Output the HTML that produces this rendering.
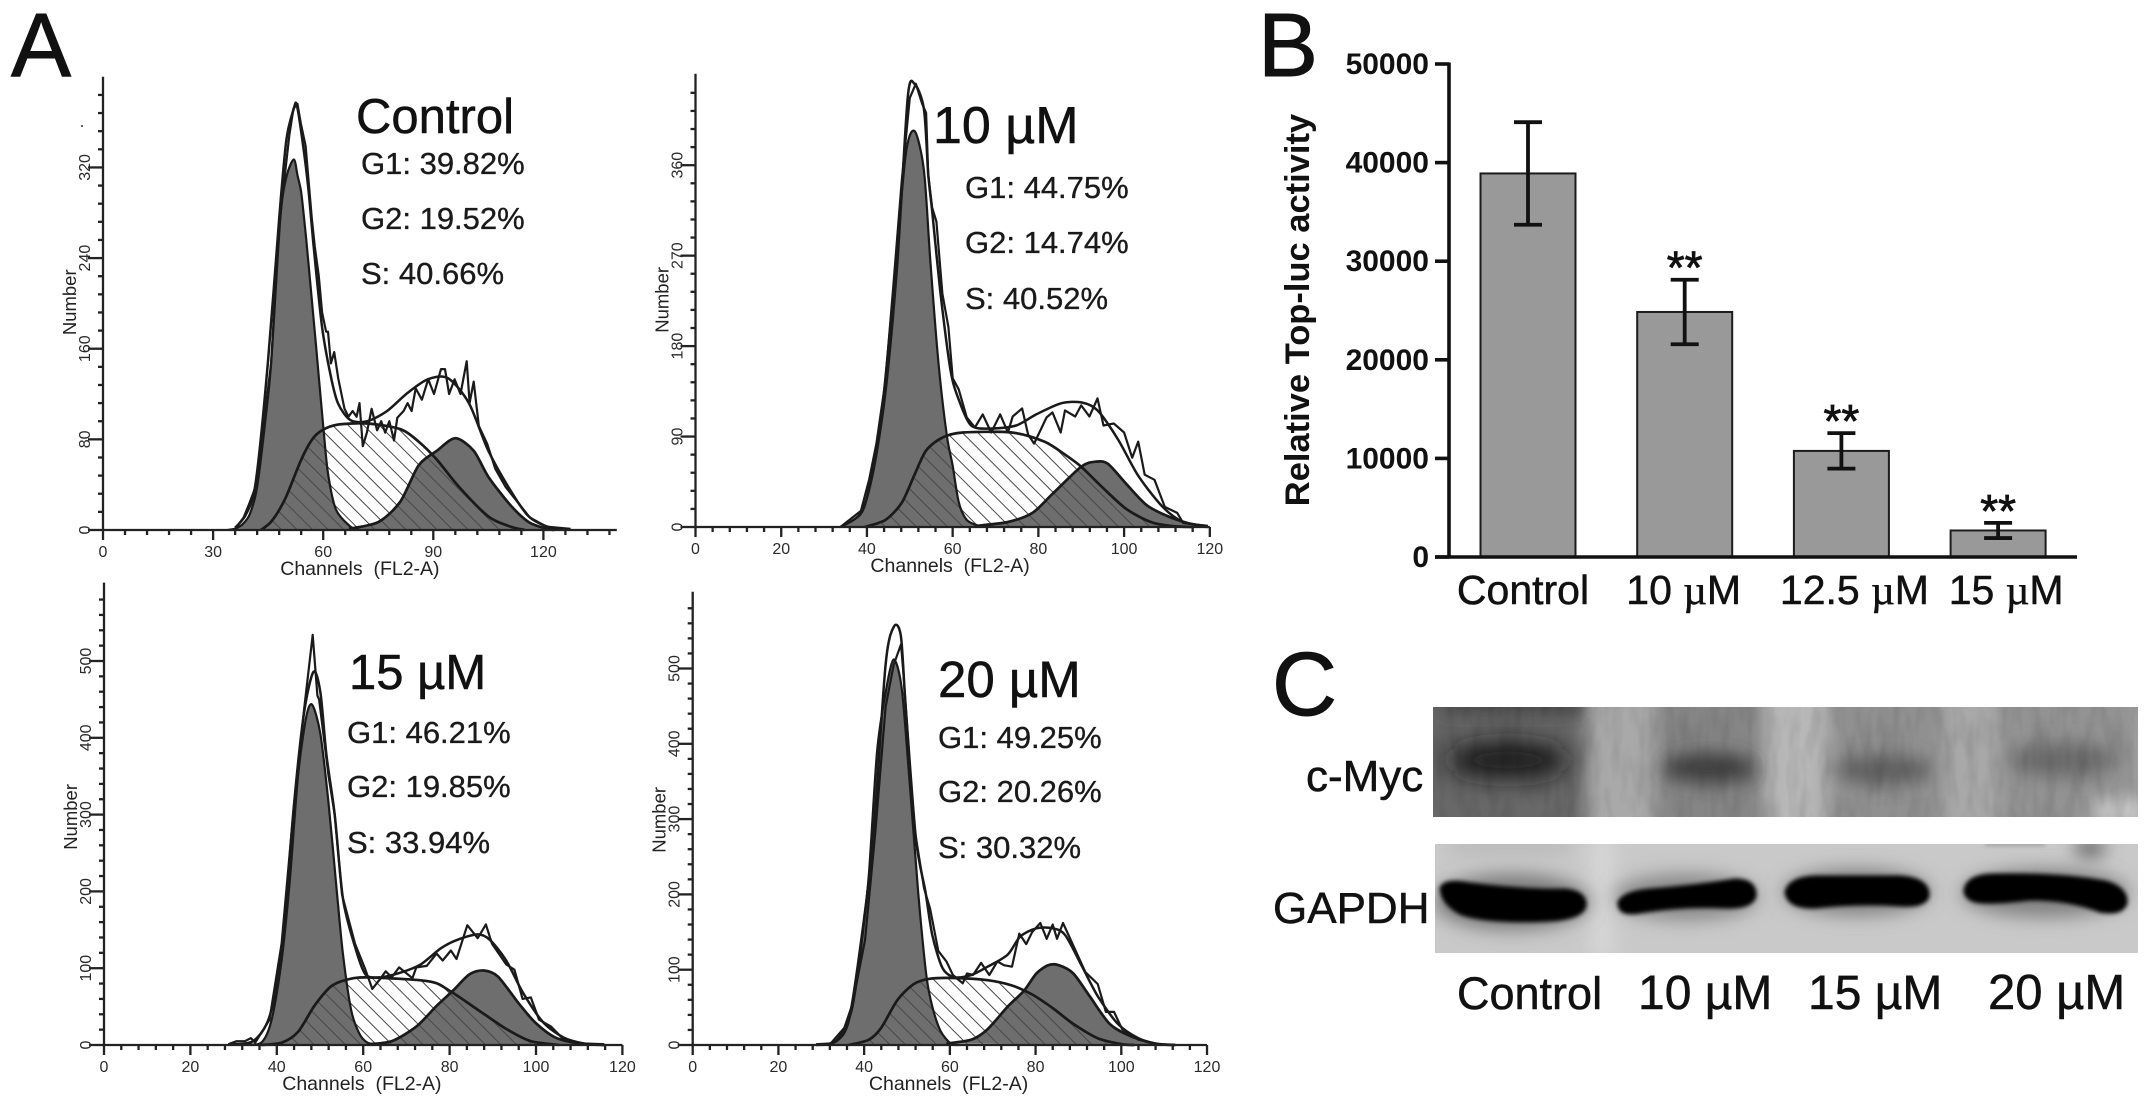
<!DOCTYPE html>
<html lang="en">
<head>
<meta charset="utf-8">
<title>Cell cycle histograms, Top-luc activity and c-Myc blot</title>
<style>
html,body{margin:0;padding:0;background:#fff;width:2150px;height:1106px;overflow:hidden}
svg{display:block}
text{font-family:"Liberation Sans",sans-serif;fill:#111}
.pct{font-size:31px;fill:#1a1a1a;stroke:#1a1a1a;stroke-width:.35px}
.ttl{font-size:49px;stroke:#111;stroke-width:.5px}
.panel-letter{font-size:90px;stroke:#111;stroke-width:1px}
.blot-label{font-size:44px;stroke:#111;stroke-width:.5px}
.blot-lane{font-size:45px;stroke:#111;stroke-width:.5px}
</style>
</head>
<body>
<svg id="figure" xmlns="http://www.w3.org/2000/svg" width="2150" height="1106" viewBox="0 0 2150 1106">
<defs>
  <pattern id="hatch" patternUnits="userSpaceOnUse" width="11" height="11" patternTransform="rotate(-45)">
    <line x1="0" y1="0" x2="0" y2="11" stroke="#484848" stroke-width="2"/>
  </pattern>
  <filter id="blurBig" x="-100%" y="-400%" width="300%" height="900%"><feGaussianBlur stdDeviation="13"/></filter>
  <filter id="blurMid" x="-100%" y="-400%" width="300%" height="900%"><feGaussianBlur stdDeviation="9"/></filter>
  <filter id="blurSmall" x="-20%" y="-60%" width="140%" height="220%"><feGaussianBlur stdDeviation="2.2"/></filter>
  <filter id="streakNoise" x="0" y="0" width="100%" height="100%">
    <feTurbulence type="fractalNoise" baseFrequency="0.09 0.025" numOctaves="2" seed="7"/>
    <feColorMatrix type="matrix" values="0 0 0 0 0  0 0 0 0 0  0 0 0 0 0  2 0 0 0 -.8"/>
  </filter>
  <clipPath id="clipMyc"><rect x="1433" y="707" width="705" height="110"/></clipPath>
  <clipPath id="clipGapdh"><rect x="1435" y="844" width="703" height="109"/></clipPath>
</defs>

<text class="panel-letter" x="11" y="76">A</text>
<text class="panel-letter" x="1258" y="76">B</text>
<text class="panel-letter" x="1272" y="715">C</text>

<g id="histograms"></g>

<g>
  <text class="ttl" x="356" y="133">Control</text>
  <text class="pct" x="361" y="174">G1: 39.82%</text>
  <text class="pct" x="361" y="229">G2: 19.52%</text>
  <text class="pct" x="361" y="284">S: 40.66%</text>
  <rect x="81" y="125" width="2" height="2" fill="#666"/>
</g>
<g>
  <text class="ttl" x="933" y="143" style="font-size:52px">10 µM</text>
  <text class="pct" x="965" y="198">G1: 44.75%</text>
  <text class="pct" x="965" y="253">G2: 14.74%</text>
  <text class="pct" x="965" y="309">S: 40.52%</text>
</g>
<g>
  <text class="ttl" x="349" y="689">15 µM</text>
  <text class="pct" x="347" y="743">G1: 46.21%</text>
  <text class="pct" x="347" y="797">G2: 19.85%</text>
  <text class="pct" x="347" y="853">S: 33.94%</text>
</g>
<g>
  <text class="ttl" x="938" y="697" style="font-size:51px">20 µM</text>
  <text class="pct" x="938" y="748">G1: 49.25%</text>
  <text class="pct" x="938" y="802">G2: 20.26%</text>
  <text class="pct" x="938" y="858">S: 30.32%</text>
</g>

<g id="barChart"></g>

<g>
  <g clip-path="url(#clipMyc)">
    <rect x="1433" y="707" width="705" height="110" fill="#a9a9a9"/>
    <rect x="1410" y="680" width="176" height="170" fill="#686868" filter="url(#blurMid)"/>
    <rect x="1655" y="680" width="110" height="170" fill="#858585" filter="url(#blurMid)"/>
    <rect x="1830" y="680" width="114" height="170" fill="#909090" filter="url(#blurMid)"/>
    <rect x="1998" y="680" width="140" height="170" fill="#939393" filter="url(#blurMid)"/>
    <rect x="1770" y="680" width="50" height="170" fill="#b8b8b8" filter="url(#blurMid)"/>
    <rect x="1440" y="698" width="140" height="14" fill="#3e3e3e" filter="url(#blurMid)"/>
    <rect x="2095" y="800" width="60" height="24" fill="#cdcdcd" filter="url(#blurMid)"/>
    <ellipse cx="1508" cy="760" rx="62" ry="18" fill="#121212" filter="url(#blurBig)"/>
    <ellipse cx="1709" cy="768" rx="46" ry="15" fill="#3e3e3e" filter="url(#blurMid)"/>
    <ellipse cx="1883" cy="770" rx="48" ry="15" fill="#5e5e5e" filter="url(#blurMid)"/>
    <ellipse cx="2063" cy="760" rx="54" ry="18" fill="#6c6c6c" filter="url(#blurMid)"/>
    <rect x="1433" y="707" width="705" height="110" filter="url(#streakNoise)" opacity=".1"/>
  </g>
  <g clip-path="url(#clipGapdh)">
    <rect x="1435" y="844" width="703" height="109" fill="#c9c9c9"/>
    <rect x="1590" y="836" width="24" height="125" fill="#d6d6d6" filter="url(#blurMid)"/>
    <rect x="1450" y="840" width="120" height="12" fill="#b4b4b4" filter="url(#blurMid)"/>
    <rect x="1985" y="838" width="60" height="8" fill="#a4a4a4" filter="url(#blurSmall)"/>
    <ellipse cx="2090" cy="848" rx="16" ry="9" fill="#5f5f5f" filter="url(#blurMid)"/>
    <ellipse cx="1512" cy="902" rx="78" ry="28" fill="#7a7a7a" filter="url(#blurMid)"/>
    <ellipse cx="1686" cy="897" rx="72" ry="23" fill="#888888" filter="url(#blurMid)"/>
    <ellipse cx="1857" cy="892" rx="74" ry="23" fill="#808080" filter="url(#blurMid)"/>
    <ellipse cx="2045" cy="893" rx="84" ry="24" fill="#808080" filter="url(#blurMid)"/>
    <path d="M1441,888 Q1445,879 1470,884 Q1525,891 1565,890 Q1586,892 1585,906 Q1582,918 1550,920 Q1490,923 1462,914 Q1442,904 1441,888Z" fill="#020202" stroke="#020202" stroke-width="3" filter="url(#blurSmall)"/>
    <path d="M1619,902 Q1625,892 1650,890 Q1700,886 1735,880 Q1756,880 1755,896 Q1752,908 1725,907 Q1680,905 1640,912 Q1618,916 1619,902Z" fill="#020202" stroke="#020202" stroke-width="3" filter="url(#blurSmall)"/>
    <path d="M1786,892 Q1790,878 1815,877 L1900,877 Q1929,879 1928,896 Q1925,907 1900,905 Q1860,902 1815,907 Q1788,908 1786,892Z" fill="#020202" stroke="#020202" stroke-width="3" filter="url(#blurSmall)"/>
    <path d="M1965,890 Q1968,875 1995,875 Q2060,874 2105,882 Q2127,888 2126,903 Q2122,915 2100,911 Q2070,899 2030,899 Q1990,904 1975,901 Q1965,898 1965,890Z" fill="#020202" stroke="#020202" stroke-width="3" filter="url(#blurSmall)"/>
  </g>
  <text class="blot-label" x="1306" y="791">c-Myc</text>
  <text class="blot-label" x="1273" y="923">GAPDH</text>
  <text class="blot-lane" x="1457" y="1009">Control</text>
  <text class="blot-lane" x="1638" y="1009" style="font-size:48px">10 µM</text>
  <text class="blot-lane" x="1808" y="1009" style="font-size:48px">15 µM</text>
  <text class="blot-lane" x="1988" y="1009" style="font-size:49px">20 µM</text>
</g>
</svg>

<script>
// ---- Histogram data: [channel, number] ----
const controlXTicks = [0, 30, 60, 90, 120];
const controlYTicks = [0, 80, 160, 240, 320];
const controlG1 = [[36,1],[38,5],[40,14],[42,38],[44,90],[45.8,147],[48.3,275],[50,312],[52,327],[53,313],[54,298],[55.2,262],[56,235],[58,164],[60,92],[61.3,50],[63.5,18],[67.4,3],[70,0]];
const controlS = [[43,0],[46,8],[49.7,28],[54,62],[57,80],[59.7,88],[64,93],[72,94],[81,89],[86,78],[91,62],[97,38],[105,12],[111,3],[115,0]];
const controlG2 = [[67,1],[75,7],[81,25],[86,57],[91,70],[96,81],[101,70],[105,47],[111,22],[116,7],[121,1],[123,0]];
const controlFit = [[36,2],[39,14],[41.6,42],[45,150],[48,275],[50,345],[52,372],[52.8,375],[54.5,340],[56,300],[57.4,250],[59.7,179],[62,137],[64,112],[67.4,97],[72,96],[77.4,105],[83,121],[88.5,133],[94,134],[99.7,112],[105,70],[111,35],[116,12],[121,3],[126,0]];
const controlRaw = [[34,0],[36,1],[38.3,11],[39.7,22],[41.9,41],[44,99],[45.8,147],[48,269],[50.8,349],[51.9,372],[53,376],[53.9,359],[55.2,339],[56.9,275],[57.7,250],[58.8,224],[59.7,192],[60.8,175],[61.3,175],[62.1,147],[63,157],[64.1,134],[65.8,107],[66.9,100],[68,105],[69.1,100],[69.9,112],[70.8,74],[71.9,86],[73.2,107],[74.7,88],[75.8,96],[76.9,86],[78,96],[79.3,79],[80.2,99],[81.9,105],[83,112],[84.1,105],[85.2,125],[86.9,115],[88.6,133],[90.2,120],[92.1,142],[93.2,142],[94.3,120],[95.8,133],[97.4,120],[99.1,149],[99.9,112],[101,131],[102.4,92],[104.7,76],[106.9,54],[109.7,38],[112.4,27],[116.3,11],[120.8,3],[127.4,1]];

const tenXTicks = [0, 20, 40, 60, 80, 100, 120];
const tenYTicks = [0, 90, 180, 270, 360];
const tenG1 = [[33.8,0],[38.6,13],[40.5,40],[43.3,109],[46.2,235],[49,369],[51.1,394],[53.3,355],[54.8,264],[56.7,163],[58.6,92],[60,61],[61.4,25],[63.3,7],[66.2,1],[68,0]];
const tenS = [[39.5,0],[44.3,7],[48.1,24],[51,51],[53.8,76],[57.6,89],[62.4,94],[73.8,94],[81.4,85],[86.2,72],[90,60],[94.8,40],[100.5,18],[106.2,5],[111,1],[115.7,0]];
const tenG2 = [[65.2,1],[72.9,5],[78.6,14],[83.3,33],[90,60],[93.3,65],[96.2,63],[100.5,43],[105.2,22],[110,11],[114.8,4],[119.5,0]];
const tenFit = [[33.8,0],[38.6,14],[41.4,54],[44.3,134],[47.1,264],[49.5,427],[51.1,441],[53.3,416],[54.3,351],[55.2,315],[57.1,235],[59.5,156],[61.4,127],[64.3,101],[69,98],[74.8,101],[79.5,112],[85.2,123],[90,124],[93.8,116],[98.6,87],[103.3,51],[109,20],[113.8,5],[119.5,1]];
const tenRaw = [[33.8,0],[38.6,16],[40.5,47],[42.2,83],[44.3,145],[46.2,242],[48.1,344],[50,427],[51.4,441],[52.9,421],[53.8,412],[54.3,351],[55.2,318],[56.2,304],[57.6,232],[59,199],[60,148],[61.4,137],[63.3,109],[65.2,99],[67,112],[69,94],[71.1,112],[72.9,94],[74,110],[76.2,118],[77.6,92],[79,83],[81.9,109],[83.3,114],[85.2,94],[86.2,116],[88.6,110],[90,121],[91.9,110],[93.8,128],[95.2,101],[97.6,103],[100,94],[101.9,69],[103.3,85],[104.8,52],[107.1,47],[109.5,20],[112.4,14],[113.8,4],[119.5,1]];

const fifteenXTicks = [0, 20, 40, 60, 80, 100, 120];
const fifteenYTicks = [0, 100, 200, 300, 400, 500];
const fifteenG1 = [[32.6,1],[36.4,3],[38.8,33],[41.1,110],[43,214],[44.9,350],[46.8,427],[48.2,443],[50.1,405],[52,314],[53.9,200],[55.3,119],[57.2,46],[59.1,15],[61,3],[63.8,0]];
const fifteenS = [[36.4,0],[41.1,3],[44.9,17],[48.7,51],[52.5,76],[56.2,85],[61,88],[75.1,83],[79.9,71],[86.5,46],[93.1,21],[98.8,5],[105.4,0]];
const fifteenG2 = [[61,1],[66.6,5],[72.3,24],[77,51],[80.8,71],[84.6,92],[87.9,97],[91.2,89],[95.9,55],[99.7,30],[104.4,10],[110,2],[115.8,0]];
const fifteenFit = [[28.8,1],[34.5,5],[38.3,37],[41.1,119],[44,314],[46.3,432],[48.5,486],[50.1,459],[51.5,377],[53.4,300],[55.3,191],[58.1,128],[60.5,92],[63.8,88],[68.5,94],[73.3,105],[78,126],[81.8,137],[86.5,144],[89.3,137],[93.1,110],[96.9,69],[101.6,30],[106.3,10],[111.1,2],[115.8,0]];
const fifteenRaw = [[28.8,1],[30.7,5],[32.6,5],[34,9],[35,3],[38.3,33],[41.1,132],[44,314],[46.3,436],[48.3,534],[49.4,455],[49.8,450],[52,350],[53.4,300],[55.1,196],[58.1,132],[60.5,98],[62.1,73],[63.8,85],[65.2,96],[66.6,88],[68.3,101],[71.4,87],[72.3,101],[74.7,103],[77,119],[78.4,110],[80.3,123],[81.6,112],[84.1,156],[86.5,139],[88.4,157],[89.8,132],[93.1,105],[95,98],[96.9,60],[98.8,62],[100.7,33],[103.5,24],[106.8,5],[111.1,2],[115.8,1]];

const twentyXTicks = [0, 20, 40, 60, 80, 100, 120];
const twentyYTicks = [0, 100, 200, 300, 400, 500];
const twentyG1 = [[28.8,0],[32.6,2],[35.4,21],[37.3,51],[39.2,125],[41.1,227],[43,389],[45,468],[46.9,512],[48.8,472],[50.7,343],[52.6,204],[54.5,93],[55.9,51],[57.8,19],[60.2,2],[62.1,0]];
const twentyS = [[36.4,0],[41.1,7],[44,23],[47.8,60],[51.6,81],[55.4,88],[61.1,89],[68.8,86],[74.5,79],[79.2,67],[84,49],[88.8,28],[94.5,9],[100.2,1],[103,0]];
const twentyG2 = [[59.2,2],[65,7],[68.8,21],[73.5,51],[77.3,72],[80.2,95],[83,106],[85.4,106],[88.8,95],[92.6,65],[97.3,28],[102.1,12],[107.8,2],[112.6,0]];
const twentyFit = [[28.8,0],[33.5,5],[36.4,32],[39.2,134],[42.1,273],[45,505],[47,556],[48.6,542],[49.7,449],[52.1,273],[54.3,204],[55.9,146],[58.3,102],[61.1,90],[65,93],[68.8,104],[73.5,120],[76.4,144],[80.2,155],[84,155],[86.9,146],[90.7,106],[94.5,65],[99.2,28],[104,9],[108.8,1],[112.6,0]];
const twentyRaw = [[28.8,1],[32.2,2],[35.4,23],[37.3,55],[40.2,139],[42.6,282],[45,449],[46.9,505],[48.6,532],[49.2,491],[51.6,292],[54,208],[55.4,181],[57.3,125],[59.2,111],[60.7,93],[63,82],[64,95],[65.4,93],[67.3,109],[69.2,93],[71.1,111],[72.6,106],[74.5,104],[76.2,148],[77.8,134],[79.2,150],[81.1,162],[82.6,141],[84,160],[85,141],[86.4,162],[88.8,132],[91.6,97],[94.5,81],[96.4,44],[98.3,44],[100.2,21],[104,7],[108.8,1],[112.6,0]];

// ---- Bar chart data ----
const barCategories = ['Control', '10 µM', '12.5 µM', '15 µM'];
const barMeans = [38900, 24850, 10760, 2690];
const barErrors = [5200, 3270, 1800, 770];
const barStars = ['', '**', '**', '**'];
const barYTicks = [0, 10000, 20000, 30000, 40000, 50000];

const SVG_NS = 'http://www.w3.org/2000/svg';

function make(tag, attrs, parent, txt) {
  const el = document.createElementNS(SVG_NS, tag);
  for (const k in attrs) el.setAttribute(k, attrs[k]);
  if (txt !== undefined) el.textContent = txt;
  parent.appendChild(el);
  return el;
}

function smoothPath(pts) {
  let d = 'M' + pts[0][0].toFixed(1) + ',' + pts[0][1].toFixed(1);
  for (let i = 0; i < pts.length - 1; i++) {
    const p0 = pts[Math.max(0, i - 1)], p1 = pts[i], p2 = pts[i + 1], p3 = pts[Math.min(pts.length - 1, i + 2)];
    const k = 0.14;
    d += ' C' + (p1[0] + (p2[0] - p0[0]) * k).toFixed(1) + ',' + (p1[1] + (p2[1] - p0[1]) * k).toFixed(1) + ' ' +
         (p2[0] - (p3[0] - p1[0]) * k).toFixed(1) + ',' + (p2[1] - (p3[1] - p1[1]) * k).toFixed(1) + ' ' +
         p2[0].toFixed(1) + ',' + p2[1].toFixed(1);
  }
  return d;
}

function drawHistogram(cfg) {
  const root = document.getElementById('histograms');
  const g = make('g', {}, root);
  
  
  const xs = c => cfg.originX + c * cfg.pxPerChannel;
  const ys = n => cfg.originY - n * cfg.pxPerCount;
  const toPx = series => series.map(p => [xs(p[0]), ys(p[1])]);

  // filled populations
  const g1Fill = make('path', {d: smoothPath(toPx(cfg.g1)) + ' Z', fill: '#6e6e6e', stroke: 'none'}, g);
  
  
  const g2Fill = make('path', {d: smoothPath(toPx(cfg.g2)) + ' Z', fill: '#6e6e6e', stroke: 'none'}, g);
  
  
  const sFill = make('path', {d: smoothPath(toPx(cfg.s)) + ' Z', fill: 'url(#hatch)', stroke: 'none'}, g);
  
  

  // outlines
  const g1Line = make('path', {d: smoothPath(toPx(cfg.g1)), fill: 'none', stroke: '#1a1a1a', 'stroke-width': 2.2}, g);
  
  
  const sLine = make('path', {d: smoothPath(toPx(cfg.s)), fill: 'none', stroke: '#1a1a1a', 'stroke-width': 2.7}, g);
  
  
  const g2Line = make('path', {d: smoothPath(toPx(cfg.g2)), fill: 'none', stroke: '#1a1a1a', 'stroke-width': 2.7}, g);
  
  
  const fitLine = make('path', {d: smoothPath(toPx(cfg.fit)), fill: 'none', stroke: '#1a1a1a', 'stroke-width': 2.5}, g);
  
  
  const rawLine = make('polyline', {points: toPx(cfg.raw).map(p => p[0].toFixed(1) + ',' + p[1].toFixed(1)).join(' '), fill: 'none', stroke: '#1a1a1a', 'stroke-width': 2.2, 'stroke-linejoin': 'round'}, g);
  
  

  // axes
  const axes = make('g', {stroke: '#222', 'stroke-width': 2.3, fill: 'none'}, g);
  
  
  make('line', {x1: xs(0), y1: ys(0), x2: xs(cfg.xEnd), y2: ys(0)}, axes);
  make('line', {x1: xs(0), y1: ys(0), x2: xs(0), y2: ys(cfg.yEnd)}, axes);

  const xStep = (cfg.xTicks[1] - cfg.xTicks[0]) / 5;
  for (let v = 0; v <= cfg.xMinorEnd + 0.01; v += xStep) {
    const isMajor = cfg.xTicks.includes(Math.round(v * 100) / 100);
    make('line', {x1: xs(v), y1: ys(0), x2: xs(v), y2: ys(0) + (isMajor ? 10 : 5)}, axes);
  }
  const yStep = (cfg.yTicks[1] - cfg.yTicks[0]) / 5;
  for (let v = 0; v <= cfg.yMinorEnd + 0.01; v += yStep) {
    const isMajor = cfg.yTicks.includes(Math.round(v * 100) / 100);
    make('line', {x1: xs(0), y1: ys(v), x2: xs(0) - (isMajor ? 15 : 5), y2: ys(v)}, axes);
  }

  cfg.xTicks.forEach(v => {
    const t = make('text', {x: xs(v), y: ys(0) + 27, 'text-anchor': 'middle', 'font-size': 16, style: 'fill:#2a2a2a'}, g, String(v));
    
    
  });
  cfg.yTicks.forEach(v => {
    const lx = xs(0) - 13;
    const t = make('text', {x: lx, y: ys(v), 'text-anchor': 'middle', 'font-size': 16, style: 'fill:#2a2a2a', transform: 'rotate(-90 ' + lx + ' ' + ys(v) + ')'}, g, String(v));
    
    
  });

  const xTitle = make('text', {x: xs(cfg.xTitleAt), y: ys(0) + 45, 'text-anchor': 'middle', 'font-size': 19.5, style: 'fill:#222;white-space:pre'}, g, 'Channels  (FL2-A)');
  
  
  const nx = xs(0) - 27;
  const yTitle = make('text', {x: nx, y: ys(cfg.yTitleAt), 'text-anchor': 'middle', 'font-size': 18.5, style: 'fill:#222', transform: 'rotate(-90 ' + nx + ' ' + ys(cfg.yTitleAt) + ')'}, g, 'Number');
  
  
}

drawHistogram({name: 'control', originX: 103, originY: 530, pxPerChannel: 3.67, pxPerCount: 1.133, xTicks: controlXTicks, yTicks: controlYTicks, xEnd: 140, yEnd: 400, xMinorEnd: 138, yMinorEnd: 384, xTitleAt: 70, yTitleAt: 201, g1: controlG1, s: controlS, g2: controlG2, fit: controlFit, raw: controlRaw});
drawHistogram({name: 'ten-um', originX: 695.5, originY: 527, pxPerChannel: 4.286, pxPerCount: 1.005, xTicks: tenXTicks, yTicks: tenYTicks, xEnd: 120, yEnd: 451, xMinorEnd: 120, yMinorEnd: 432, xTitleAt: 59.4, yTitleAt: 226, g1: tenG1, s: tenS, g2: tenG2, fit: tenFit, raw: tenRaw});
drawHistogram({name: 'fifteen-um', originX: 104, originY: 1045, pxPerChannel: 4.32, pxPerCount: 0.768, xTicks: fifteenXTicks, yTicks: fifteenYTicks, xEnd: 120, yEnd: 602, xMinorEnd: 120, yMinorEnd: 580, xTitleAt: 59.7, yTitleAt: 297, g1: fifteenG1, s: fifteenS, g2: fifteenG2, fit: fifteenFit, raw: fifteenRaw});
drawHistogram({name: 'twenty-um', originX: 692.7, originY: 1045, pxPerChannel: 4.286, pxPerCount: 0.753, xTicks: twentyXTicks, yTicks: twentyYTicks, xEnd: 120, yEnd: 602, xMinorEnd: 120, yMinorEnd: 580, xTitleAt: 59.7, yTitleAt: 299, g1: twentyG1, s: twentyS, g2: twentyG2, fit: twentyFit, raw: twentyRaw});

// ---- Bar chart ----
(function drawBars() {
  const root = document.getElementById('barChart');
  const ORIGIN_X = 1449, ORIGIN_Y = 557, PX_PER_UNIT = 493 / 50000;
  const FIRST_CENTER = 1528, BAND = 156.7, BAR_W = 95;
  const ys = v => ORIGIN_Y - v * PX_PER_UNIT;
  const xc = i => FIRST_CENTER + i * BAND;
  const labelNudge = {'Control': -5, '10 µM': -1, '12.5 µM': 13, '15 µM': 8};

  barMeans.forEach((v, i) => {
    const bar = make('rect', {x: xc(i) - BAR_W / 2, y: ys(v), width: BAR_W, height: ORIGIN_Y - ys(v), fill: '#999999', stroke: '#1c1c1c', 'stroke-width': 2}, root);
    
    
    const hi = ys(v + barErrors[i]), lo = ys(v - barErrors[i]);
    const err = make('path', {d: 'M' + xc(i) + ',' + hi + ' V' + lo + ' M' + (xc(i) - 14) + ',' + hi + ' H' + (xc(i) + 14) + ' M' + (xc(i) - 14) + ',' + lo + ' H' + (xc(i) + 14), fill: 'none', stroke: '#111', 'stroke-width': 3.8}, root);
    
    
    if (barStars[i]) {
      const star = make('text', {x: xc(i), y: hi + 4, 'text-anchor': 'middle', 'font-size': 46, style: 'stroke:#111;stroke-width:.8px'}, root, barStars[i]);
      
      
    }
    const parts = barCategories[i].split('µ');
    const label = make('text', {x: xc(i) + labelNudge[barCategories[i]], y: 604, 'text-anchor': 'middle', 'font-size': 41, style: 'stroke:#111;stroke-width:.5px'}, root);
    
    
    label.appendChild(document.createTextNode(parts[0]));
    if (parts.length > 1) {
      make('tspan', {style: 'font-family:"Liberation Serif",serif'}, label, 'µ');
      label.appendChild(document.createTextNode(parts[1]));
    }
  });

  const axis = make('g', {stroke: '#111', 'stroke-width': 3.6, fill: 'none'}, root);
  
  
  make('line', {x1: ORIGIN_X, y1: ys(barYTicks[barYTicks.length - 1]) - 1.5, x2: ORIGIN_X, y2: ORIGIN_Y}, axis);
  make('line', {x1: ORIGIN_X - 14, y1: ORIGIN_Y, x2: 2077, y2: ORIGIN_Y}, axis);
  barYTicks.forEach(v => {
    make('line', {x1: ORIGIN_X - 14, y1: ys(v), x2: ORIGIN_X, y2: ys(v)}, axis);
    const t = make('text', {x: ORIGIN_X - 20, y: ys(v) + 10, 'text-anchor': 'end', 'font-size': 30, 'font-weight': 'bold'}, root, String(v));
    
    
  });
  const title = make('text', {x: 1309, y: 310, 'text-anchor': 'middle', 'font-size': 34.5, 'font-weight': 'bold', transform: 'rotate(-90 1309 310)'}, root, 'Relative Top-luc activity');
  
  
})();
</script>
</body>
</html>
